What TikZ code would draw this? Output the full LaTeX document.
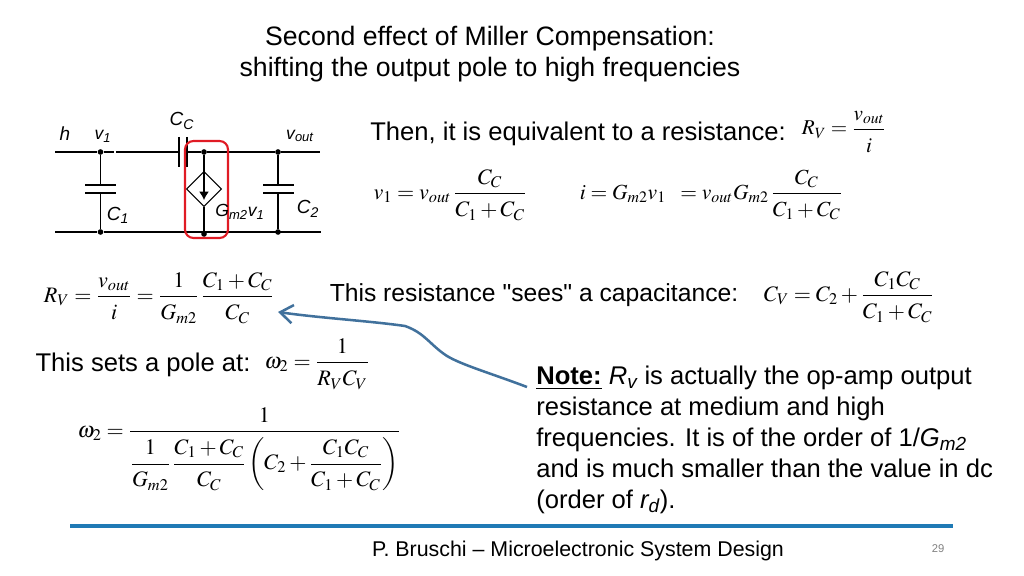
\documentclass[tikz,border=0pt]{standalone}
\usepackage{amsmath}
\usepackage{mathptmx}
\usepackage[no-math]{fontspec}
\setmainfont{Liberation Sans}
\newfontfamily\plainfont{Liberation Sans}
\usetikzlibrary{arrows.meta,shapes.geometric}
\definecolor{arrowblue}{HTML}{41719C}
\definecolor{ruleblue}{HTML}{1F7AB5}
\definecolor{boxred}{HTML}{E01B24}
\tikzset{
  txt/.style={inner sep=0pt,font=\fontsize{18.2}{21.9}\selectfont,text=black},
  lab/.style={inner sep=0pt,font=\fontsize{12.5}{15}\selectfont\itshape},
  biglab/.style={inner sep=0pt,font=\fontsize{13.5}{16}\selectfont\itshape},
  eq/.style={inner sep=0pt,font=\fontsize{15.7}{18}\selectfont},
  dot/.style={circle,fill=black,inner sep=0pt,minimum size=4pt},
  wire/.style={line width=.75pt}
}
\newcommand{\dfr}[2]{\displaystyle\frac{#1}{\rule{0pt}{14pt}#2}}
\newcommand{\dfs}[2]{\displaystyle\frac{\rule{0pt}{14pt}#1}{\rule{0pt}{14pt}#2}}
\newcommand{\sbs}[1]{$_{\text{\itshape #1}}$}
\begin{document}
\begin{tikzpicture}[x=0.025cm,y=-0.025cm,>=latex]
\useasboundingbox (0,0) rectangle (1024,576);
% title
\node[txt,align=center,font=\fontsize{18.95}{22.2}\selectfont] (title) at (490,54){Second effect of Miller Compensation:\\shifting the output pole to high frequencies};
% circuit
\node[dot] (n1) at (100.5,152){};
\node[dot] (n2) at (204,152){};
\node[dot] (n3) at (278,152){};
\node[dot] (b1) at (100.5,232){};
\node[dot] (b2) at (204,234){};
\node[dot] (b3) at (278,232){};
\coordinate (tl) at (55,152);
\coordinate (tr) at (320,152);
\coordinate (bl) at (55,232);
\coordinate (br) at (321,232);
\coordinate (gapa) at (114,152);
\coordinate (gapb) at (116,152);
\coordinate (pa) at (179,152);
\coordinate (pb) at (187,152);
\draw[wire] (tl)--(n1)--(gapa) (gapb)--(pa) (pb)--(n2)--(n3)--(tr);
\draw[wire] (bl)--(b1)--(br);
\draw[wire] (179,137)--(179,167);
\draw[wire] (187,137)--(187,167);
% C1 and C2
\draw[wire] (n1)--(100.5,185) (100.5,193)--(b1);
\draw[wire] (85,185)--(116,185) (85,193)--(116,193);
\draw[wire] (n3)--(278,185) (278,193)--(b3);
\draw[wire] (263,185)--(294,185) (263,193)--(294,193);
% controlled source
\node[draw,wire,diamond,aspect=1,inner sep=0pt,minimum size=25pt] (gm) at (204,189){};
\draw[wire] (n2)--(gm.north) (gm.south)--(b2);
\draw[wire,-{Latex[length=6pt,width=7pt]}] (gm.north)--(204,200);
\draw[boxred,line width=1.5pt,rounded corners=6pt] (185,141) rectangle (228,238);
\node[biglab] (lh) at (65,134){h};
\node[lab] (lv1) at (103,136){v\sbs{1}};
\node[biglab] (lcc) at (182,121){C\sbs{C}};
\node[lab] (lvo) at (300,136){v\sbs{out}};
\node[biglab] (lc1) at (118,215){C\sbs{1}};
\node[biglab] (lc2) at (308,209){C\sbs{2}};
\node[biglab,font=\fontsize{12.5}{15}\selectfont\itshape] (lgm) at (240,212){G\sbs{m2}v\sbs{1}};
% text and equations
\node[txt] (t1) at (578,134){Then, it is equivalent to a resistance:};
\node[eq,font=\fontsize{15}{18}\selectfont] (e1) at (844,132){$R_V=\dfr{v_{out}}{i}$};
\node[eq] (e2) at (450,195){$v_1=v_{out}\,\dfr{C_C}{C_1+C_C}$};
\node[eq,font=\fontsize{15.3}{18}\selectfont] (e3) at (711,195){$i=G_{m2}v_1\;\;=v_{out}G_{m2}\,\dfr{C_C}{C_1+C_C}$};
\node[eq] (e4) at (159,298){$R_V=\dfr{v_{out}}{i}=\dfr{1}{G_{m2}}\,\dfr{C_1+C_C}{C_C}$};
\node[txt,font=\fontsize{17.55}{21}\selectfont] (t2) at (534,295){This resistance {\plainfont"sees"} a capacitance:};
\node[eq] (e5) at (849,297){$C_V=C_2+\dfr{C_1C_C}{C_1+C_C}$};
\node[txt] (t3) at (143,365){This sets a pole at:};
\node[eq] (e6) at (317,364){$\omega_2=\dfr{1}{R_VC_V}$};
\node[eq] (e7) at (239,449){$\omega_2=\dfr{1}{\dfs{1}{G_{m2}}\,\dfs{C_1+C_C}{C_C}\left(C_2+\dfs{C_1C_C}{C_1+C_C}\right)}$};
\node[txt,align=left,anchor=north west] (note) at (536,366){\underline{\textbf{Note:}} \textit{R\sbs{v}} is actually the op-amp output\\resistance at medium and high\\frequencies. It is of the order of 1/\textit{G\sbs{m2}}\\and is much smaller than the value in dc\\(order of \textit{r\sbs{d}}).};
% arrow
\coordinate (as) at (527,387);
\coordinate (ae) at (278,312);
\draw[arrowblue,line width=1.8pt,-{Straight Barb[length=9pt,width=13pt]}] (as)..controls (490,373) and (462,365) .. (447,356) ..controls (430,345) and (425,333) .. (405,326) ..controls (370,321) and (320,318) .. (ae);
% footer
\coordinate (fl) at (70,526);
\coordinate (fr) at (953,526);
\draw[ruleblue,line width=2.2pt] (fl)--(fr);
\node[inner sep=0pt,font=\fontsize{15.2}{18}\selectfont] (foot) at (578,551){P. Bruschi -- Microelectronic System Design};
\node[inner sep=0pt,font=\fontsize{8}{10}\selectfont,text=gray] (pg) at (938,549){29};
\end{tikzpicture}
\end{document}
